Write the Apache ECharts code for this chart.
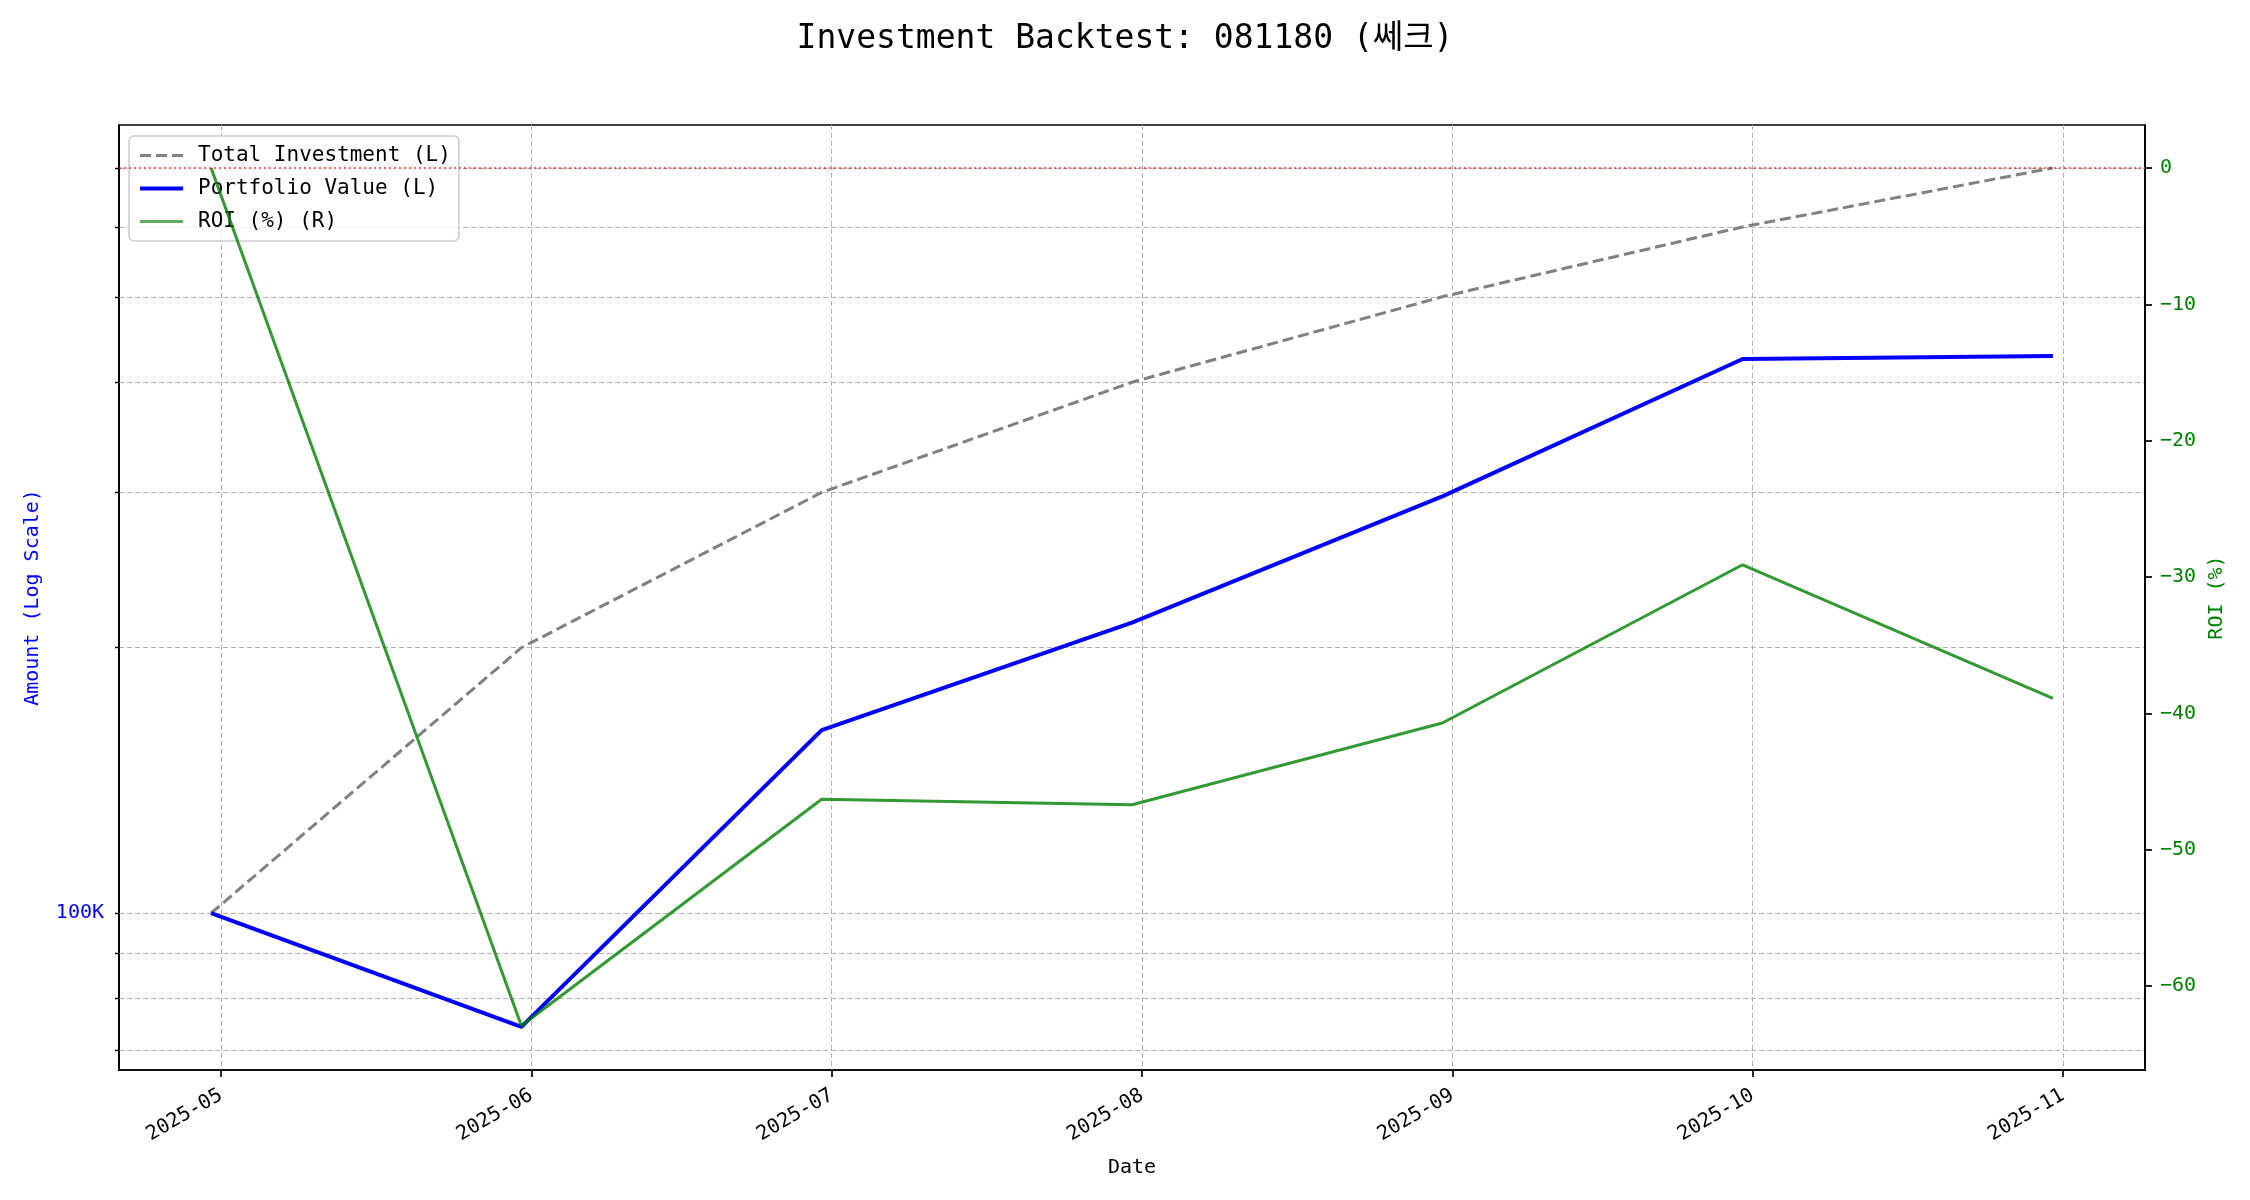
<!DOCTYPE html>
<html>
<head>
<meta charset="utf-8">
<script src="https://cdn.jsdelivr.net/npm/echarts@6/dist/echarts.min.js"></script>
<style>
html,body{margin:0;padding:0;background:#fff;}
#chart{width:2250px;height:1200px;}
</style>
</head>
<body>
<div id="chart"></div>
<script>
const dates = ['2025-04-30','2025-05-31','2025-06-30','2025-07-31','2025-08-31','2025-09-30','2025-10-31'];
const totalInvestment = [100000,200000,300000,400000,500000,600000,700000];
const portfolioValue = [100000,74300,161300,213500,296900,425000,428500];
const roiPct = [0,-62.9,-46.3,-46.7,-40.7,-29.1,-38.9];
const xTicks = ['2025-05-01','2025-06-01','2025-07-01','2025-08-01','2025-09-01','2025-10-01','2025-11-01'];
const xTickLabels = ['2025-05','2025-06','2025-07','2025-08','2025-09','2025-10','2025-11'];
const leftMajorTicks = [100000];
const leftMinorTicks = [70000,80000,90000,100000,200000,300000,400000,500000,600000,700000];
const rightTicks = [-60,-50,-40,-30,-20,-10,0];

const FONT = 'DejaVu Sans Mono, Noto Sans CJK KR, monospace';
const ts = (s) => Date.parse(s + 'T00:00:00Z');
const pair = (vals) => dates.map((d, i) => [ts(d), vals[i]]);
const minus = (s) => String(s).replace('-', '\u2212');
const xTickTs = xTicks.map(ts);
const labelFor = (v) => { const i = xTickTs.indexOf(v); return i >= 0 ? xTickLabels[i] : ''; };

const chart = echarts.init(document.getElementById('chart'), null, {renderer: 'canvas'});
chart.setOption({
  animation: false,
  backgroundColor: '#fff',
  textStyle: {fontFamily: FONT},
  title: {
    text: 'Investment Backtest: 081180 (쎄크)',
    left: 'center', top: 18,
    textStyle: {fontFamily: FONT, fontSize: 33, fontWeight: 'normal', color: '#000'}
  },
  grid: {left: 119, right: 105, top: 125, bottom: 130, show: true, borderColor: '#000', borderWidth: 1.7, backgroundColor: 'transparent'},
  legend: {
    orient: 'vertical', left: 129, top: 136,
    itemWidth: 43, itemHeight: 14, itemGap: 12,
    padding: [9, 8, 9, 9],
    backgroundColor: 'rgba(255,255,255,0.8)',
    borderColor: '#cccccc', borderWidth: 1.5, borderRadius: 5,
    itemStyle: {opacity: 0},
    textStyle: {fontFamily: FONT, fontSize: 21, color: '#000', padding: [0, 0, 0, 10]},
    data: [
      {name: 'Total Investment (L)', lineStyle: {width: 3, color: 'gray', type: [11, 5]}},
      {name: 'Portfolio Value (L)', lineStyle: {width: 4, color: 'blue'}},
      {name: 'ROI (%) (R)', lineStyle: {width: 3, color: 'rgba(0,128,0,0.8)'}}
    ]
  },
  xAxis: {
    type: 'value',
    min: ts('2025-04-20') + 0.8 * 86400000, max: ts('2025-11-09') + 0.2 * 86400000,
    name: 'Date', nameLocation: 'middle', nameGap: 88,
    nameTextStyle: {fontFamily: FONT, fontSize: 20, color: '#000'},
    axisLine: {show: true, onZero: false, lineStyle: {color: '#000', width: 1.7}},
    axisTick: {show: true, length: 7, lineStyle: {color: '#000', width: 1.7}, customValues: xTickTs},
    axisLabel: {
      customValues: xTickTs, rotate: 30, margin: 24, fontFamily: FONT, fontSize: 20, color: '#000',
      formatter: labelFor
    },
    splitLine: {show: true, lineStyle: {color: '#b0b0b0', width: 1, type: [5, 3]}}
  },
  yAxis: [
    {
      type: 'log', logBase: 10, min: 66400, max: 783000, position: 'left',
      name: 'Amount (Log Scale)', nameLocation: 'middle', nameGap: 76, nameRotate: 90,
      nameTextStyle: {fontFamily: FONT, fontSize: 20, color: 'blue'},
      axisLine: {show: true, lineStyle: {color: '#000', width: 1.7}},
      axisTick: {show: true, length: 4, lineStyle: {color: '#000', width: 1.4}, customValues: leftMinorTicks},
      axisLabel: {show: true, customValues: leftMajorTicks, margin: 15, fontFamily: FONT, fontSize: 20, color: 'blue',
        formatter: (v) => Math.round(v / 1000) + 'K'},
      splitLine: {show: true, lineStyle: {color: '#b0b0b0', width: 1, type: [5, 3]}}
    },
    {
      type: 'value', min: -66.15, max: 3.15, position: 'right',
      name: 'ROI (%)', nameLocation: 'middle', nameGap: 62, nameRotate: 90,
      nameTextStyle: {fontFamily: FONT, fontSize: 20, color: 'green'},
      axisLine: {show: true, onZero: false, lineStyle: {color: '#000', width: 1.7}},
      axisTick: {show: true, length: 7, lineStyle: {color: '#000', width: 1.7}, customValues: rightTicks},
      axisLabel: {customValues: rightTicks, margin: 15, fontFamily: FONT, fontSize: 20, color: 'green', formatter: minus},
      splitLine: {show: false}
    }
  ],
  series: [
    {
      name: 'Total Investment (L)', type: 'line', yAxisIndex: 0, data: pair(totalInvestment),
      symbol: 'none', showSymbol: false, z: 2,
      lineStyle: {color: 'gray', width: 3, type: [11, 5]}, itemStyle: {color: 'gray'}
    },
    {
      name: 'Portfolio Value (L)', type: 'line', yAxisIndex: 0, data: pair(portfolioValue),
      symbol: 'none', showSymbol: false, z: 3,
      lineStyle: {color: 'blue', width: 4}, itemStyle: {color: 'blue'}
    },
    {
      name: 'ROI (%) (R)', type: 'line', yAxisIndex: 1, data: pair(roiPct),
      symbol: 'none', showSymbol: false, z: 4,
      lineStyle: {color: 'green', width: 3, opacity: 0.8}, itemStyle: {color: 'rgba(0,128,0,0.8)'},
      markLine: {
        silent: true, symbol: 'none', label: {show: false},
        lineStyle: {color: 'red', width: 1.6, type: [2, 3], opacity: 0.8},
        data: [{yAxis: 0}]
      }
    }
  ]
});
</script>
</body>
</html>
